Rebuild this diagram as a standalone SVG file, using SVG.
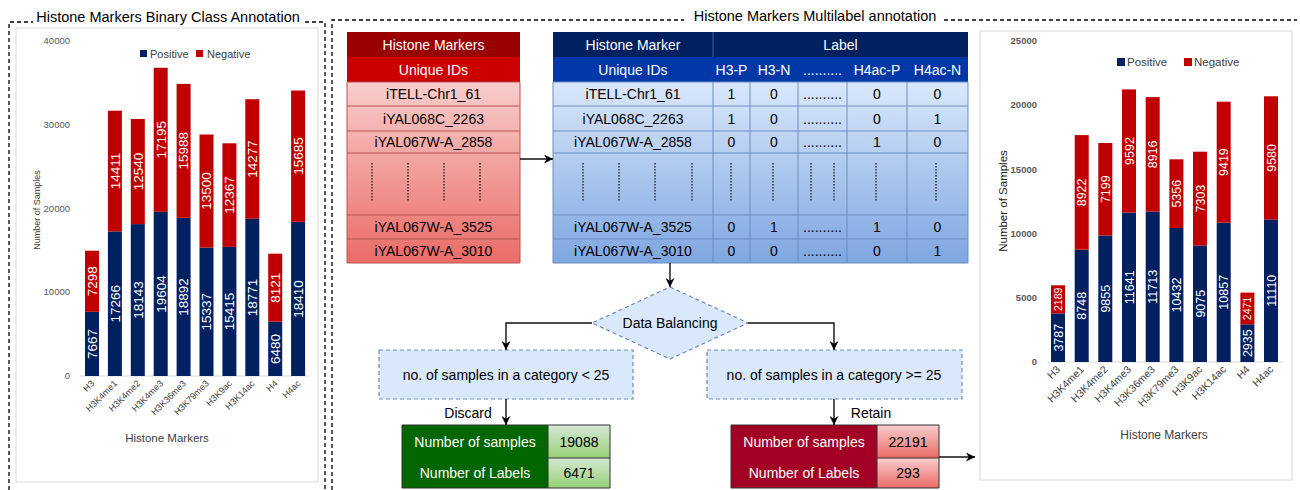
<svg xmlns="http://www.w3.org/2000/svg" width="1300" height="490" viewBox="0 0 1300 490">
<defs>
<style>
text{font-family:"Liberation Sans",Arial,sans-serif;}
.frame{fill:none;stroke:#000;stroke-width:1.3;stroke-dasharray:4,3;}
.title{font-size:14.5px;fill:#000;text-anchor:middle;}
.panel{fill:#fff;stroke:#d9d9d9;stroke-width:1;}
.pos{fill:#002060;}
.neg{fill:#c00000;}
.tick{font-size:9.5px;fill:#595959;text-anchor:end;}
.tickR{font-size:9.5px;fill:#595959;text-anchor:end;font-weight:bold;}
.axis{stroke:#d9d9d9;stroke-width:1;}
.lvL{font-size:13.5px;fill:#fff;text-anchor:middle;}
.lvR{font-size:12.5px;fill:#fff;text-anchor:middle;}
.lvS{font-size:10.5px;fill:#fff;text-anchor:middle;}
.xlL{font-size:9px;fill:#404040;text-anchor:end;}
.xlR{font-size:10.5px;fill:#404040;text-anchor:end;}
.leg{font-size:11px;fill:#404040;}
.at{font-size:11.5px;fill:#404040;text-anchor:middle;}
.cell{font-size:14px;fill:#000;text-anchor:middle;}
.hcell{font-size:14px;fill:#fff;text-anchor:middle;}
.rline{stroke:#b85450;stroke-width:1;fill:none;}
.bline{stroke:#6c8ebf;stroke-width:1;fill:none;}
.vdots{stroke:#333;stroke-width:1.5;stroke-dasharray:1.5,1.5;}
.dash{fill:#dae8fc;stroke:#6c8ebf;stroke-width:1.2;stroke-dasharray:4,3;}
.conn{fill:none;stroke:#111;stroke-width:1.4;marker-end:url(#arr);}
.lbl{font-size:14px;fill:#000;text-anchor:middle;}
</style>
<marker id="arr" viewBox="0 0 10 10" refX="10" refY="5" markerWidth="9" markerHeight="9" markerUnits="userSpaceOnUse" orient="auto">
<path d="M0,0 L10,5 L0,10 L3,5 z" fill="#000"/>
</marker>
<linearGradient id="gRed" x1="0" y1="82" x2="0" y2="263" gradientUnits="userSpaceOnUse">
<stop offset="0" stop-color="#f8cecc"/><stop offset="1" stop-color="#ea6b66"/>
</linearGradient>
<linearGradient id="gBlue" x1="0" y1="82" x2="0" y2="263" gradientUnits="userSpaceOnUse">
<stop offset="0" stop-color="#dae8fc"/><stop offset="1" stop-color="#7ea6e0"/>
</linearGradient>
<linearGradient id="gGreenC" x1="0" y1="0" x2="0" y2="1">
<stop offset="0" stop-color="#d5e8d4"/><stop offset="1" stop-color="#97d077"/>
</linearGradient>
<linearGradient id="gRedC" x1="0" y1="0" x2="0" y2="1">
<stop offset="0" stop-color="#f8cecc"/><stop offset="1" stop-color="#ea6b66"/>
</linearGradient>
</defs>
<rect width="1300" height="490" fill="#fff"/>

<g id="frames">
<path class="frame" d="M9,490 L9,22 L33,22 M305,22 L325,22 L325,490"/>
<text class="title" x="168" y="22">Histone Markers Binary Class Annotation</text>
<path class="frame" d="M332,490 L332,20 L684,20 M944,20 L1297,20"/>
<text class="title" x="815" y="21">Histone Markers Multilabel annotation</text>
</g>

<g id="left-chart">
<rect class="panel" x="16" y="28" width="302" height="454"/>
<text class="tick" x="70" y="44">40000</text>
<text class="tick" x="70" y="127.8">30000</text>
<text class="tick" x="70" y="211.5">20000</text>
<text class="tick" x="70" y="295.3">10000</text>
<text class="tick" x="70" y="379">0</text>
<text class="at" style="font-size:9px" transform="translate(40,210) rotate(-90)" x="0" y="0">Number of Samples</text>
<rect class="pos" x="140" y="50" width="7" height="7"/><text class="leg" x="150" y="58">Positive</text>
<rect class="neg" x="196" y="50" width="7" height="7"/><text class="leg" x="207" y="58">Negative</text>
<line class="axis" x1="80" y1="376" x2="310" y2="376"/>
<g>
<rect class="pos" x="85" y="311.8" width="14" height="64.2"/><rect class="neg" x="85" y="250.7" width="14" height="61.1"/>
<rect class="pos" x="107.9" y="231.4" width="14" height="144.6"/><rect class="neg" x="107.9" y="110.7" width="14" height="120.7"/>
<rect class="pos" x="130.8" y="224.1" width="14" height="151.9"/><rect class="neg" x="130.8" y="119" width="14" height="105.1"/>
<rect class="pos" x="153.7" y="211.8" width="14" height="164.2"/><rect class="neg" x="153.7" y="67.8" width="14" height="144"/>
<rect class="pos" x="176.6" y="217.8" width="14" height="158.2"/><rect class="neg" x="176.6" y="83.9" width="14" height="133.9"/>
<rect class="pos" x="199.5" y="247.6" width="14" height="128.4"/><rect class="neg" x="199.5" y="134.5" width="14" height="113.1"/>
<rect class="pos" x="222.4" y="246.9" width="14" height="129.1"/><rect class="neg" x="222.4" y="143.3" width="14" height="103.6"/>
<rect class="pos" x="245.3" y="218.8" width="14" height="157.2"/><rect class="neg" x="245.3" y="99.2" width="14" height="119.6"/>
<rect class="pos" x="268.2" y="321.7" width="14" height="54.3"/><rect class="neg" x="268.2" y="253.7" width="14" height="68"/>
<rect class="pos" x="291.1" y="221.8" width="14" height="154.2"/><rect class="neg" x="291.1" y="90.5" width="14" height="131.3"/>
</g>
<g>
<text class="lvL" transform="translate(92,343.9) rotate(-90)" y="4.8">7667</text>
<text class="lvL" transform="translate(92,281.2) rotate(-90)" y="4.8">7298</text>
<text class="lvL" transform="translate(114.9,303.7) rotate(-90)" y="4.8">17266</text>
<text class="lvL" transform="translate(114.9,171) rotate(-90)" y="4.8">14411</text>
<text class="lvL" transform="translate(137.8,300) rotate(-90)" y="4.8">18143</text>
<text class="lvL" transform="translate(137.8,171.5) rotate(-90)" y="4.8">12540</text>
<text class="lvL" transform="translate(160.7,293.9) rotate(-90)" y="4.8">19604</text>
<text class="lvL" transform="translate(160.7,139.8) rotate(-90)" y="4.8">17195</text>
<text class="lvL" transform="translate(183.6,296.9) rotate(-90)" y="4.8">18892</text>
<text class="lvL" transform="translate(183.6,150.8) rotate(-90)" y="4.8">15988</text>
<text class="lvL" transform="translate(206.5,311.8) rotate(-90)" y="4.8">15337</text>
<text class="lvL" transform="translate(206.5,191) rotate(-90)" y="4.8">13500</text>
<text class="lvL" transform="translate(229.4,311.5) rotate(-90)" y="4.8">15415</text>
<text class="lvL" transform="translate(229.4,195.1) rotate(-90)" y="4.8">12367</text>
<text class="lvL" transform="translate(252.3,297.4) rotate(-90)" y="4.8">18771</text>
<text class="lvL" transform="translate(252.3,159) rotate(-90)" y="4.8">14277</text>
<text class="lvL" transform="translate(275.2,348.9) rotate(-90)" y="4.8">6480</text>
<text class="lvL" transform="translate(275.2,287.7) rotate(-90)" y="4.8">8121</text>
<text class="lvL" transform="translate(298.1,298.9) rotate(-90)" y="4.8">18410</text>
<text class="lvL" transform="translate(298.1,156.1) rotate(-90)" y="4.8">15685</text>
</g>
<g>
<text class="xlL" transform="translate(95,384) rotate(-45)">H3</text>
<text class="xlL" transform="translate(117.9,384) rotate(-45)">H3K4me1</text>
<text class="xlL" transform="translate(140.8,384) rotate(-45)">H3K4me2</text>
<text class="xlL" transform="translate(163.7,384) rotate(-45)">H3K4me3</text>
<text class="xlL" transform="translate(186.6,384) rotate(-45)">H3K36me3</text>
<text class="xlL" transform="translate(209.5,384) rotate(-45)">H3K79me3</text>
<text class="xlL" transform="translate(232.4,384) rotate(-45)">H3K9ac</text>
<text class="xlL" transform="translate(255.3,384) rotate(-45)">H3K14ac</text>
<text class="xlL" transform="translate(278.2,384) rotate(-45)">H4</text>
<text class="xlL" transform="translate(301.1,384) rotate(-45)">H4ac</text>
</g>
<text class="at" x="167" y="442">Histone Markers</text>
</g>

<g id="table-histone-markers">
<rect x="347" y="32" width="173" height="25" fill="#990000"/>
<rect x="347" y="57" width="173" height="25" fill="#cc0000"/>
<rect x="347" y="82" width="173" height="181" fill="url(#gRed)"/>
<path class="rline" d="M347,82 H520 V263 H347 Z M347,106 H520 M347,131 H520 M347,153 H520 M347,215 H520 M347,239 H520"/>
<text class="hcell" x="433.5" y="49.5">Histone Markers</text>
<text class="hcell" x="433.5" y="74.5">Unique IDs</text>
<text class="cell" x="433.5" y="99">iTELL-Chr1_61</text>
<text class="cell" x="433.5" y="123.5">iYAL068C_2263</text>
<text class="cell" x="433.5" y="147">iYAL067W-A_2858</text>
<text class="cell" x="433.5" y="232">iYAL067W-A_3525</text>
<text class="cell" x="433.5" y="256">iYAL067W-A_3010</text>
<path class="vdots" d="M372,163 V202 M408,163 V202 M444,163 V202 M480,163 V202"/>
</g>

<g id="table-multilabel">
<rect x="553" y="32" width="415" height="25" fill="#002060"/>
<rect x="553" y="57" width="415" height="25" fill="#0038a8"/>
<line x1="713" y1="32" x2="713" y2="57" stroke="#3a5a9a" stroke-width="1"/>
<rect x="553" y="82" width="415" height="181" fill="url(#gBlue)"/>
<path class="bline" d="M553,82 H968 V263 H553 Z M553,106 H968 M553,131 H968 M553,153 H968 M553,215 H968 M553,239 H968 M713,82 V263 M750,82 V263 M798,82 V263 M847,82 V263 M907,82 V263"/>
<text class="hcell" x="633" y="49.5">Histone Marker</text>
<text class="hcell" x="840.5" y="49.5">Label</text>
<text class="hcell" x="633" y="74.5">Unique IDs</text>
<text class="hcell" x="731.5" y="74.5">H3-P</text>
<text class="hcell" x="774" y="74.5">H3-N</text>
<text class="hcell" x="822.5" y="74.5">..........</text>
<text class="hcell" x="877" y="74.5">H4ac-P</text>
<text class="hcell" x="937.5" y="74.5">H4ac-N</text>
<text class="cell" x="633" y="99">iTELL-Chr1_61</text>
<text class="cell" x="633" y="123.5">iYAL068C_2263</text>
<text class="cell" x="633" y="147">iYAL067W-A_2858</text>
<text class="cell" x="633" y="232">iYAL067W-A_3525</text>
<text class="cell" x="633" y="256">iYAL067W-A_3010</text>
<g>
<text class="cell" x="731.5" y="99">1</text><text class="cell" x="774" y="99">0</text><text class="cell" x="822.5" y="99">..........</text><text class="cell" x="877" y="99">0</text><text class="cell" x="937.5" y="99">0</text>
<text class="cell" x="731.5" y="123.5">1</text><text class="cell" x="774" y="123.5">0</text><text class="cell" x="822.5" y="123.5">..........</text><text class="cell" x="877" y="123.5">0</text><text class="cell" x="937.5" y="123.5">1</text>
<text class="cell" x="731.5" y="147">0</text><text class="cell" x="774" y="147">0</text><text class="cell" x="822.5" y="147">..........</text><text class="cell" x="877" y="147">1</text><text class="cell" x="937.5" y="147">0</text>
<text class="cell" x="731.5" y="232">0</text><text class="cell" x="774" y="232">1</text><text class="cell" x="822.5" y="232">..........</text><text class="cell" x="877" y="232">1</text><text class="cell" x="937.5" y="232">0</text>
<text class="cell" x="731.5" y="256">0</text><text class="cell" x="774" y="256">0</text><text class="cell" x="822.5" y="256">..........</text><text class="cell" x="877" y="256">0</text><text class="cell" x="937.5" y="256">1</text>
</g>
<path class="vdots" d="M583,163 V202 M619,163 V202 M655,163 V202 M692,163 V202 M731,163 V202 M773,163 V202 M811,163 V202 M834,163 V202 M876,163 V202 M936,163 V202"/>
</g>

<g id="data-balancing">
<polygon class="dash" points="670,287 748,323 670,359 592,323"/>
<text class="lbl" x="670" y="328">Data Balancing</text>
</g>

<g id="box-less">
<rect class="dash" x="379" y="350" width="254" height="49"/>
<text class="lbl" x="506" y="380">no. of samples in a category &lt; 25</text>
</g>

<g id="box-more">
<rect class="dash" x="707" y="350" width="255" height="49"/>
<text class="lbl" x="834" y="380">no. of samples in a category &gt;= 25</text>
</g>

<g id="result-discard">
<rect x="402" y="425" width="146" height="63" fill="#006600"/>
<rect x="548" y="425" width="62" height="33" fill="url(#gGreenC)"/>
<rect x="548" y="458" width="62" height="30" fill="url(#gGreenC)"/>
<path d="M402,425 H610 V488 H402 Z M548,425 V488 M548,458 H610" fill="none" stroke="#333" stroke-width="1"/>
<text class="hcell" x="475" y="447">Number of samples</text>
<text class="hcell" x="475" y="478">Number of Labels</text>
<text class="cell" x="579" y="447">19088</text>
<text class="cell" x="579" y="478">6471</text>
</g>

<g id="result-retain">
<rect x="731" y="425" width="146" height="63" fill="#a20025"/>
<rect x="877" y="425" width="62" height="33" fill="url(#gRedC)"/>
<rect x="877" y="458" width="62" height="30" fill="url(#gRedC)"/>
<path d="M731,425 H939 V488 H731 Z M877,425 V488 M877,458 H939" fill="none" stroke="#333" stroke-width="1"/>
<text class="hcell" x="804" y="447">Number of samples</text>
<text class="hcell" x="804" y="478">Number of Labels</text>
<text class="cell" x="908" y="447">22191</text>
<text class="cell" x="908" y="478">293</text>
</g>

<g id="connectors">
<path class="conn" d="M520,159 L553,159"/>
<path class="conn" d="M670,263 L670,287"/>
<path class="conn" d="M592,323 L506,323 L506,350"/>
<path class="conn" d="M748,323 L834,323 L834,350"/>
<path class="conn" d="M506,399 L506,425"/>
<path class="conn" d="M834,399 L834,425"/>
<path class="conn" d="M939,457 L975,457"/>
<text class="lbl" x="468" y="418">Discard</text>
<text class="lbl" x="871" y="418">Retain</text>
</g>

<g id="right-chart">
<rect class="panel" x="980" y="31" width="312" height="449"/>
<text class="tickR" x="1037" y="44.2">25000</text>
<text class="tickR" x="1037" y="108.4">20000</text>
<text class="tickR" x="1037" y="172.6">15000</text>
<text class="tickR" x="1037" y="236.8">10000</text>
<text class="tickR" x="1037" y="301">5000</text>
<text class="tickR" x="1037" y="365">0</text>
<text class="at" style="font-size:11.5px;fill:#222" transform="translate(1007,201) rotate(-90)">Number of Samples</text>
<rect class="pos" x="1117" y="58" width="8" height="8"/><text class="leg" style="font-size:11.5px" x="1127" y="66">Positive</text>
<rect class="neg" x="1184" y="58" width="8" height="8"/><text class="leg" style="font-size:11.5px" x="1194" y="66">Negative</text>
<line class="axis" x1="1047" y1="362" x2="1283" y2="362"/>
<g>
<rect class="pos" x="1051" y="313.4" width="14" height="48.6"/><rect class="neg" x="1051" y="285.3" width="14" height="28.1"/>
<rect class="pos" x="1074.7" y="249.7" width="14" height="112.3"/><rect class="neg" x="1074.7" y="135.1" width="14" height="114.6"/>
<rect class="pos" x="1098.3" y="235.5" width="14" height="126.5"/><rect class="neg" x="1098.3" y="143" width="14" height="92.5"/>
<rect class="pos" x="1122" y="212.5" width="14" height="149.5"/><rect class="neg" x="1122" y="89.4" width="14" height="123.1"/>
<rect class="pos" x="1145.7" y="211.6" width="14" height="150.4"/><rect class="neg" x="1145.7" y="97.1" width="14" height="114.5"/>
<rect class="pos" x="1169.4" y="228" width="14" height="134"/><rect class="neg" x="1169.4" y="159.3" width="14" height="68.7"/>
<rect class="pos" x="1193" y="245.5" width="14" height="116.5"/><rect class="neg" x="1193" y="151.7" width="14" height="93.8"/>
<rect class="pos" x="1216.7" y="222.6" width="14" height="139.4"/><rect class="neg" x="1216.7" y="101.7" width="14" height="120.9"/>
<rect class="pos" x="1240.4" y="324.3" width="14" height="37.7"/><rect class="neg" x="1240.4" y="292.6" width="14" height="31.7"/>
<rect class="pos" x="1264" y="219.4" width="14" height="142.6"/><rect class="neg" x="1264" y="96.3" width="14" height="123.1"/>
</g>
<g>
<text class="lvR" transform="translate(1058,337.7) rotate(-90)" y="4.5">3787</text>
<text class="lvS" transform="translate(1058,299.3) rotate(-90)" y="3.8">2189</text>
<text class="lvR" transform="translate(1081.7,305.8) rotate(-90)" y="4.5">8748</text>
<text class="lvR" transform="translate(1081.7,192.4) rotate(-90)" y="4.5">8922</text>
<text class="lvR" transform="translate(1105.3,298.7) rotate(-90)" y="4.5">9855</text>
<text class="lvR" transform="translate(1105.3,189.2) rotate(-90)" y="4.5">7199</text>
<text class="lvR" transform="translate(1129,287.3) rotate(-90)" y="4.5">11641</text>
<text class="lvR" transform="translate(1129,151) rotate(-90)" y="4.5">9592</text>
<text class="lvR" transform="translate(1152.7,286.8) rotate(-90)" y="4.5">11713</text>
<text class="lvR" transform="translate(1152.7,154.4) rotate(-90)" y="4.5">8916</text>
<text class="lvR" transform="translate(1176.4,295) rotate(-90)" y="4.5">10432</text>
<text class="lvR" transform="translate(1176.4,193.7) rotate(-90)" y="4.5">5356</text>
<text class="lvR" transform="translate(1200,303.7) rotate(-90)" y="4.5">9075</text>
<text class="lvR" transform="translate(1200,198.6) rotate(-90)" y="4.5">7303</text>
<text class="lvR" transform="translate(1223.7,292.3) rotate(-90)" y="4.5">10857</text>
<text class="lvR" transform="translate(1223.7,162.1) rotate(-90)" y="4.5">9419</text>
<text class="lvR" transform="translate(1247.4,343.2) rotate(-90)" y="4.5">2935</text>
<text class="lvS" transform="translate(1247.4,308.5) rotate(-90)" y="3.8">2471</text>
<text class="lvR" transform="translate(1271,290.7) rotate(-90)" y="4.5">11110</text>
<text class="lvR" transform="translate(1271,157.9) rotate(-90)" y="4.5">9580</text>
</g>
<g>
<text class="xlR" transform="translate(1061,370) rotate(-45)">H3</text>
<text class="xlR" transform="translate(1084.7,370) rotate(-45)">H3K4me1</text>
<text class="xlR" transform="translate(1108.3,370) rotate(-45)">H3K4me2</text>
<text class="xlR" transform="translate(1132,370) rotate(-45)">H3K4me3</text>
<text class="xlR" transform="translate(1155.7,370) rotate(-45)">H3K36me3</text>
<text class="xlR" transform="translate(1179.4,370) rotate(-45)">H3K79me3</text>
<text class="xlR" transform="translate(1203,370) rotate(-45)">H3K9ac</text>
<text class="xlR" transform="translate(1226.7,370) rotate(-45)">H3K14ac</text>
<text class="xlR" transform="translate(1250.4,370) rotate(-45)">H4</text>
<text class="xlR" transform="translate(1274,370) rotate(-45)">H4ac</text>
</g>
<text class="at" style="font-size:12px" x="1164" y="439">Histone Markers</text>
</g>
</svg>
